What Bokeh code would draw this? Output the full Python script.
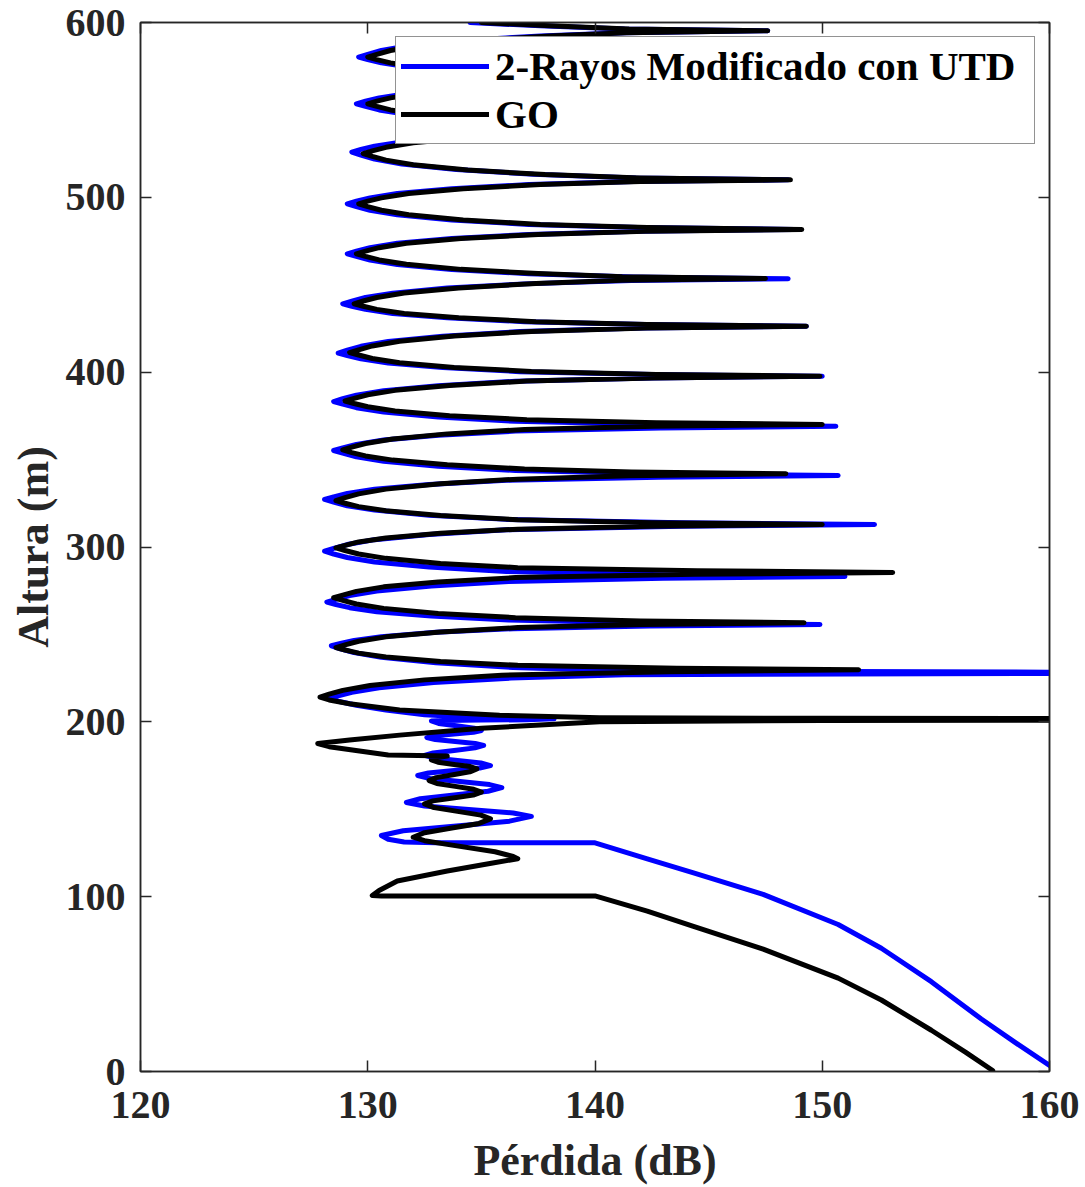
from bokeh.plotting import figure
from bokeh.models import Range1d, LinearAxis, FixedTicker, Legend, LegendItem
from bokeh.embed import file_html
from bokeh.resources import INLINE

# ---------------- data ----------------
x_ticks = [120, 130, 140, 150, 160]
y_ticks = [0, 100, 200, 300, 400, 500, 600]
series_names = ["2-Rayos Modificado con UTD", "GO"]
x_label = "Pérdida (dB)"
y_label = "Altura (m)"

# (loss dB, height m) - 2-Rayos Modificado con UTD, interference lobes
utd_lobes = [
    (134.5, 600.0), (137.6, 598.1), (141.3, 596.3), (147.6, 595.3),
    (141.3, 594.2), (137.6, 592.3), (134.2, 589.7), (131.8, 586.7), (130.6, 584.0), (130.0, 581.8), (129.6, 580.2),
    (130.0, 578.8), (130.6, 576.9), (131.8, 574.5), (134.2, 571.9), (137.6, 569.6), (141.6, 567.9), (148.0, 567.0),
    (141.5, 566.0), (137.5, 564.3), (134.1, 562.0), (131.7, 559.3), (130.5, 556.9), (129.9, 555.0), (129.5, 553.5),
    (129.9, 552.0), (130.5, 550.0), (131.7, 547.5), (134.1, 544.7), (137.5, 542.3), (141.5, 540.5), (148.0, 539.5),
    (141.5, 538.5), (137.3, 536.8), (133.9, 534.5), (131.5, 531.7), (130.3, 529.3), (129.7, 527.4), (129.3, 525.9),
    (129.7, 524.2), (130.3, 521.9), (131.5, 519.1), (133.9, 515.9), (137.3, 513.2), (141.8, 511.1), (148.5, 510.0),
    (141.7, 509.0), (137.1, 507.3), (133.7, 504.9), (131.3, 502.2), (130.1, 499.7), (129.5, 497.8), (129.1, 496.3),
    (129.5, 494.7), (130.1, 492.6), (131.3, 490.0), (133.7, 487.1), (137.1, 484.5), (141.9, 482.7), (148.8, 481.6),
    (141.9, 480.6), (137.1, 478.8), (133.7, 476.4), (131.3, 473.7), (130.1, 471.2), (129.5, 469.2), (129.1, 467.7),
    (129.5, 466.2), (130.1, 464.1), (131.3, 461.6), (133.7, 458.7), (137.1, 456.3), (141.7, 454.4), (148.5, 453.4),
    (141.6, 452.4), (136.9, 450.5), (133.5, 448.1), (131.1, 445.2), (129.9, 442.7), (129.3, 440.6), (128.9, 439.1),
    (129.3, 437.7), (129.9, 435.9), (131.1, 433.6), (133.5, 431.1), (136.9, 428.9), (142.2, 427.2), (149.3, 426.3),
    (142.1, 425.2), (136.7, 423.2), (133.3, 420.6), (130.9, 417.5), (129.7, 414.8), (129.1, 412.6), (128.7, 410.9),
    (129.1, 409.5), (129.7, 407.6), (130.9, 405.2), (133.3, 402.6), (136.7, 400.3), (142.5, 398.6), (150.0, 397.7),
    (142.5, 396.7), (136.5, 394.8), (133.1, 392.3), (130.7, 389.4), (129.5, 386.8), (128.9, 384.8), (128.5, 383.2),
    (128.9, 381.7), (129.5, 379.7), (130.7, 377.2), (133.1, 374.3), (136.5, 371.9), (142.9, 370.0), (150.6, 369.1),
    (142.9, 368.1), (136.5, 366.3), (133.1, 363.9), (130.7, 361.2), (129.5, 358.7), (128.9, 356.7), (128.5, 355.2),
    (128.9, 353.7), (129.5, 351.6), (130.7, 349.1), (133.1, 346.2), (136.5, 343.8), (142.9, 341.9), (150.7, 340.9),
    (142.8, 339.9), (136.1, 338.2), (132.7, 335.8), (130.3, 333.1), (129.1, 330.6), (128.5, 328.7), (128.1, 327.2),
    (128.5, 325.7), (129.1, 323.6), (130.3, 321.1), (132.7, 318.2), (136.1, 315.8), (143.8, 313.9), (152.3, 312.9),
    (143.8, 311.8), (136.1, 309.8), (132.7, 307.2), (130.3, 304.2), (129.1, 301.4), (128.5, 299.2), (128.1, 297.6),
    (128.5, 296.0), (129.1, 294.0), (130.3, 291.4), (132.7, 288.5), (136.1, 286.0), (143.0, 284.1), (151.0, 283.1),
    (143.0, 282.1), (136.2, 280.2), (132.8, 277.7), (130.4, 274.8), (129.2, 272.2), (128.6, 270.1), (128.2, 268.5),
    (128.6, 267.1), (129.2, 265.3), (130.4, 263.0), (132.8, 260.5), (136.2, 258.3), (142.3, 256.6), (149.9, 255.7),
    (142.4, 254.8), (136.4, 253.3), (133.0, 251.2), (130.6, 248.7), (129.4, 246.6), (128.8, 244.8), (128.4, 243.5),
    (128.8, 241.8), (129.4, 239.6), (130.6, 236.9), (133.0, 233.8), (136.4, 231.1), (141.4, 229.1), (165.0, 228.2),
    (165.0, 227.9), (141.3, 226.9), (136.3, 225.0), (132.9, 222.5), (130.5, 219.5), (129.3, 216.9), (128.7, 214.8), (128.3, 213.2),
    (128.7, 211.8), (129.5, 209.5), (130.8, 206.8), (132.5, 204.0), (134.5, 202.6), (136.5, 202.0), (138.2, 201.7),
]
# UTD, small oscillations below 200 m
utd_low = [
    (137.0, 201.2), (135.0, 201.0), (133.3, 200.8), (132.8, 200.5),
    (133.12, 199.1), (133.9, 197.75), (134.68, 196.4), (135.0, 195.0),
    (134.65, 194.0), (133.8, 193.0), (132.95, 192.0), (132.6, 191.0),
    (132.97, 189.9), (133.85, 188.75), (134.73, 187.6), (135.1, 186.5),
    (134.72, 185.1), (133.8, 183.65), (132.88, 182.2), (132.5, 180.8),
    (132.92, 179.35), (133.95, 177.9), (134.98, 176.45), (135.4, 175.0),
    (134.93, 173.6), (133.8, 172.15), (132.67, 170.7), (132.2, 169.3),
    (132.74, 167.6), (134.05, 165.85), (135.36, 164.1), (135.9, 162.4),
    (135.29, 160.3), (133.8, 158.15), (132.31, 156.0), (131.7, 153.9),
    (132.5, 151.9), (134.45, 149.9), (136.4, 147.9), (137.2, 145.9),
    (136.24, 143.2), (133.9, 140.45), (131.56, 137.7), (130.6, 135.0),
    (130.9, 132.8), (131.6, 131.3), (133.0, 130.9), (140.0, 130.8),
]
# UTD, direct-path tail
utd_tail = [
    (142.3, 121.6), (144.3, 113.8), (147.4, 101.3), (150.7, 84.1), (152.6, 70.5),
    (154.8, 51.4), (157.0, 30.0), (158.5, 16.5), (160.0, 3.5),
]

# GO, interference lobes
go_lobes = [
    (135.0, 600.0), (138.0, 598.1), (141.5, 596.3), (147.6, 595.3),
    (141.4, 594.2), (138.0, 592.3), (134.6, 589.7), (132.2, 586.7), (131.0, 584.0), (130.4, 581.8), (130.0, 580.2),
    (130.4, 578.8), (131.0, 576.9), (132.2, 574.5), (134.6, 571.9), (138.0, 569.6), (141.7, 567.9), (148.0, 567.0),
    (141.7, 566.0), (138.0, 564.3), (134.6, 562.0), (132.2, 559.3), (131.0, 556.9), (130.4, 555.0), (130.0, 553.5),
    (130.4, 552.0), (131.0, 550.0), (132.2, 547.5), (134.6, 544.7), (138.0, 542.3), (141.7, 540.5), (148.0, 539.5),
    (141.6, 538.5), (137.8, 536.6), (134.4, 534.1), (132.0, 531.2), (130.8, 528.6), (130.2, 526.6), (129.8, 525.0),
    (130.2, 523.4), (130.8, 521.3), (132.0, 518.6), (134.4, 515.6), (137.8, 513.0), (142.0, 511.1), (148.6, 510.0),
    (142.0, 509.0), (137.6, 507.3), (134.2, 504.9), (131.8, 502.2), (130.6, 499.7), (130.0, 497.8), (129.6, 496.3),
    (130.0, 494.7), (130.6, 492.6), (131.8, 490.0), (134.2, 487.1), (137.6, 484.5), (142.3, 482.7), (149.1, 481.6),
    (142.2, 480.6), (137.5, 478.8), (134.1, 476.4), (131.7, 473.7), (130.5, 471.2), (129.9, 469.2), (129.5, 467.7),
    (129.9, 466.2), (130.5, 464.2), (131.7, 461.7), (134.1, 458.8), (137.5, 456.4), (141.2, 454.6), (147.5, 453.6),
    (141.2, 452.6), (137.4, 450.7), (134.0, 448.2), (131.6, 445.3), (130.4, 442.7), (129.8, 440.7), (129.4, 439.1),
    (129.8, 437.7), (130.4, 435.9), (131.6, 433.6), (134.0, 431.1), (137.4, 428.9), (142.3, 427.2), (149.3, 426.3),
    (142.3, 425.2), (137.2, 423.3), (133.8, 420.7), (131.4, 417.7), (130.2, 415.0), (129.6, 412.8), (129.2, 411.2),
    (129.6, 409.8), (130.2, 407.8), (131.4, 405.4), (133.8, 402.7), (137.2, 400.4), (142.7, 398.7), (149.9, 397.7),
    (142.6, 396.7), (137.0, 394.9), (133.6, 392.4), (131.2, 389.6), (130.0, 387.1), (129.4, 385.0), (129.0, 383.5),
    (129.4, 382.1), (130.0, 380.2), (131.2, 377.8), (133.6, 375.1), (137.0, 372.8), (142.7, 371.1), (150.0, 370.1),
    (142.6, 369.1), (136.9, 367.2), (133.5, 364.7), (131.1, 361.8), (129.9, 359.2), (129.3, 357.1), (128.9, 355.5),
    (129.3, 354.0), (129.9, 352.1), (131.1, 349.7), (133.5, 347.0), (136.9, 344.6), (141.6, 342.9), (148.4, 341.9),
    (141.5, 340.8), (136.6, 338.8), (133.2, 336.2), (130.8, 333.1), (129.6, 330.4), (129.0, 328.2), (128.6, 326.5),
    (129.0, 325.0), (129.6, 323.1), (130.8, 320.7), (133.2, 318.0), (136.6, 315.6), (142.5, 313.9), (150.0, 312.9),
    (142.5, 311.9), (136.6, 310.2), (133.2, 307.9), (130.8, 305.2), (129.6, 302.9), (129.0, 300.9), (128.6, 299.5),
    (129.0, 298.0), (129.6, 296.0), (130.8, 293.5), (133.2, 290.6), (136.6, 288.2), (144.5, 286.4), (153.1, 285.4),
    (144.4, 284.4), (136.5, 282.5), (133.1, 280.0), (130.7, 277.2), (129.5, 274.6), (128.9, 272.5), (128.5, 271.0),
    (128.9, 269.5), (129.5, 267.4), (130.7, 264.9), (133.1, 262.0), (136.5, 259.6), (142.0, 257.7), (149.2, 256.7),
    (142.1, 255.7), (136.6, 253.9), (133.2, 251.4), (130.8, 248.6), (129.6, 246.1), (129.0, 244.0), (128.6, 242.5),
    (129.0, 241.1), (129.6, 239.3), (130.8, 237.1), (133.2, 234.5), (136.6, 232.3), (143.6, 230.7), (151.6, 229.8),
    (143.3, 228.7), (135.9, 226.7), (132.5, 224.0), (130.1, 220.8), (128.9, 218.0), (128.3, 215.8), (127.9, 214.1),
    (128.3, 212.5), (129.2, 210.3), (131.4, 206.8), (135.8, 203.8), (140.2, 202.4), (150.0, 202.0), (165.0, 201.9),
    (165.0, 201.0), (150.0, 200.8), (140.2, 200.0), (135.0, 196.3), (131.4, 192.4), (129.2, 189.6), (127.8, 187.6),
]
# GO, oscillations below 190 m
go_low = [
    (128.3, 185.8), (130.9, 181.0), (133.5, 180.4), (133.0, 179.4), (132.8, 178.2),
    (133.09, 176.9), (133.8, 175.65), (134.51, 174.4), (134.8, 173.1),
    (134.49, 171.4), (133.75, 169.75), (133.01, 168.1), (132.7, 166.4),
    (133.04, 164.75), (133.85, 163.1), (134.66, 161.45), (135.0, 159.8),
    (134.64, 158.1), (133.75, 156.45), (132.87, 154.8), (132.5, 153.1),
    (132.92, 150.95), (133.95, 148.8), (134.98, 146.65), (135.4, 144.5),
    (134.9, 141.9), (133.7, 139.25), (132.5, 136.6), (132.0, 134.0),
    (132.5, 132.0), (133.5, 129.9), (135.6, 125.7), (136.4, 123.0), (136.6, 121.7),
    (135.5, 119.3), (133.5, 114.7), (131.3, 109.0), (130.5, 103.5), (130.2, 100.6),
    (130.6, 100.4), (140.0, 100.4),
]
# GO, direct-path tail
go_tail = [
    (142.3, 91.7), (144.3, 83.1), (147.4, 70.0), (150.7, 53.4), (152.6, 40.9),
    (154.8, 23.6), (156.3, 11.1), (157.5, 0.6),
]

# ---------------- figure ----------------
AX = "#262626"
FONT = "Liberation Serif"

utd = utd_lobes + utd_low + utd_tail
go = go_lobes + go_low + go_tail
utd_x = [a for a, b in utd]
utd_y = [b for a, b in utd]
go_x = [a for a, b in go]
go_y = [b for a, b in go]

p = figure(width=1085, height=1187,
           x_range=Range1d(120, 160), y_range=Range1d(0, 600),
           output_backend="svg", toolbar_location=None,
           min_border_left=140, min_border_right=36,
           min_border_top=22, min_border_bottom=116)
p.xgrid.visible = False
p.ygrid.visible = False
p.background_fill_color = "white"
p.border_fill_color = "white"
p.outline_line_color = AX
p.outline_line_width = 1.5

r_utd = p.line(utd_x, utd_y, line_color="#0000FF", line_width=5,
               line_join="round", line_cap="round")
r_go = p.line(go_x, go_y, line_color="#000000", line_width=5,
              line_join="round", line_cap="round")


def style_axis(ax, ticks, show):
    ax.ticker = FixedTicker(ticks=ticks)
    ax.minor_tick_line_color = None
    ax.major_tick_in = 11
    ax.major_tick_out = 0
    ax.major_tick_line_color = AX
    ax.major_tick_line_width = 1.5
    ax.axis_line_color = AX
    ax.axis_line_width = 1.5
    if show:
        ax.major_label_text_font = FONT
        ax.major_label_text_font_style = "bold"
        ax.major_label_text_font_size = "40px"
        ax.major_label_text_color = AX
        ax.axis_label_text_font = FONT
        ax.axis_label_text_font_style = "bold"
        ax.axis_label_text_font_size = "44px"
        ax.axis_label_text_color = AX
    else:
        ax.major_label_text_font_size = "8px"
        ax.major_label_text_color = None
        ax.major_label_standoff = 0


style_axis(p.xaxis[0], x_ticks, True)
style_axis(p.yaxis[0], y_ticks, True)
p.xaxis[0].axis_label = x_label
p.yaxis[0].axis_label = y_label
p.xaxis[0].major_label_standoff = 20
p.yaxis[0].major_label_standoff = 15
p.xaxis[0].axis_label_standoff = 15
p.yaxis[0].axis_label_standoff = 5

top_ax = LinearAxis()
right_ax = LinearAxis()
style_axis(top_ax, x_ticks, False)
style_axis(right_ax, y_ticks, False)
p.add_layout(top_ax, "above")
p.add_layout(right_ax, "right")

legend = Legend(items=[LegendItem(label=series_names[0], renderers=[r_utd]),
                       LegendItem(label=series_names[1], renderers=[r_go])],
                location="top_right", margin=14, padding=5, spacing=0,
                glyph_width=88, glyph_height=44, label_height=44,
                label_width=534, label_standoff=6,
                label_text_font=FONT, label_text_font_style="bold",
                label_text_font_size="41px", label_text_color="#000000",
                border_line_color=AX, border_line_width=1.5,
                background_fill_color="white", background_fill_alpha=1.0)
p.add_layout(legend)

open("out.html", "w").write(file_html(p, INLINE))
